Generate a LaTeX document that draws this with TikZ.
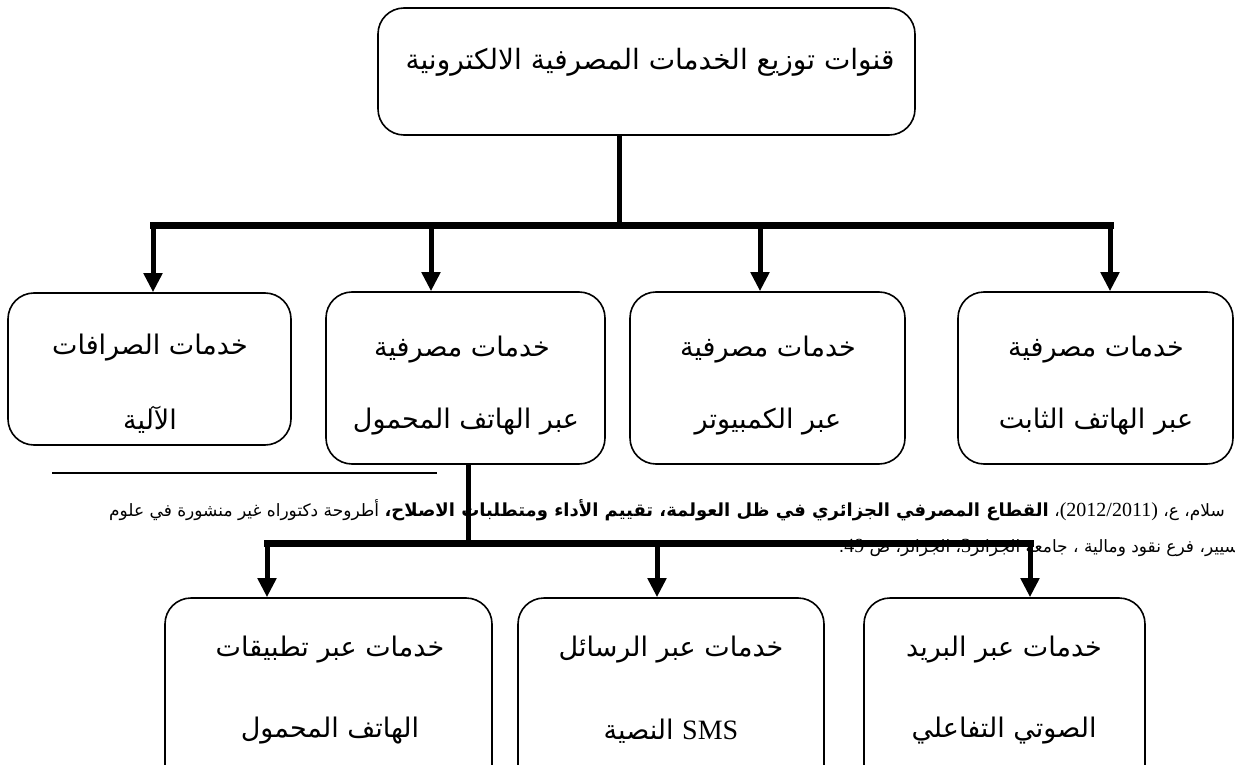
\documentclass[tikz,border=0pt]{standalone}
\usepackage{fontspec}
\usetikzlibrary{arrows.meta}
\TeXXeTstate=1
\newfontfamily\arfont[Script=Arabic]{DejaVu Sans}
\newfontfamily\latfont{Liberation Serif}
\newcommand\artxt[1]{{\arfont\beginR #1\endR}}
\newcommand\latnum[1]{\beginL{\latfont\fontsize{20}{22}\selectfont #1}\endL}

\begin{document}
\begin{tikzpicture}[x=1pt,y=-1pt,
  box/.style={draw, line width=1.6pt, rounded corners=26pt, inner sep=0pt},
  lbl/.style={inner sep=0pt, font=\arfont\fontsize{27}{30}\selectfont},
  title/.style={inner sep=0pt, font=\arfont\fontsize{28}{32}\selectfont},
  note/.style={inner sep=0pt, anchor=east, font=\arfont\fontsize{17}{20}\selectfont},
  bus/.style={line width=7pt, line cap=rect},
  stem/.style={line width=5pt},
  feed/.style={line width=5pt, -{Triangle[width=18pt,length=19pt]}}]
\useasboundingbox (0,0) rectangle (1235,765);
\clip (0,0) rectangle (1235,765);

% root
\node[box, minimum width=537pt, minimum height=127pt] (root) at (646.5,71.5) {};
\node[title] (rootl) at (650,62) {\artxt{قنوات توزيع الخدمات المصرفية الالكترونية}};

% first level
\node[box, minimum width=283pt, minimum height=152pt] (atm) at (149.5,369) {};
\node[box, minimum width=279pt, minimum height=172pt] (mob) at (465.5,378) {};
\node[box, minimum width=275pt, minimum height=172pt] (pc)  at (767.5,378) {};
\node[box, minimum width=275pt, minimum height=172pt] (fix) at (1095.5,378) {};

\node[lbl] (atm1) at (150,348) {\artxt{خدمات الصرافات}};
\node[lbl] (atm2) at (150,420) {\artxt{الآلية}};
\node[lbl] (mob1) at (462,350) {\artxt{خدمات مصرفية}};
\node[lbl] (mob2) at (466,422) {\artxt{عبر الهاتف المحمول}};
\node[lbl] (pc1)  at (768,350) {\artxt{خدمات مصرفية}};
\node[lbl] (pc2)  at (768,422) {\artxt{عبر الكمبيوتر}};
\node[lbl] (fix1) at (1096,350) {\artxt{خدمات مصرفية}};
\node[lbl] (fix2) at (1096,422) {\artxt{عبر الهاتف الثابت}};

% second level (under the mobile channel)
\node[box, minimum width=327pt, minimum height=220pt] (app) at (328.5,708) {};
\node[box, minimum width=306pt, minimum height=220pt] (sms) at (671,708) {};
\node[box, minimum width=281pt, minimum height=220pt] (ivr) at (1004.5,708) {};

\node[lbl] (app1) at (330,650) {\artxt{خدمات عبر تطبيقات}};
\node[lbl] (app2) at (330,731) {\artxt{الهاتف المحمول}};
\node[lbl] (sms1) at (671,650) {\artxt{خدمات عبر الرسائل}};
\node[lbl] (sms2) at (671,731) {\artxt{النصية} {\latfont\fontsize{28}{30}\selectfont SMS}};
\node[lbl] (ivr1) at (1004,650) {\artxt{خدمات عبر البريد}};
\node[lbl] (ivr2) at (1004,731) {\artxt{الصوتي التفاعلي}};

% connectors, level one
\coordinate (j1) at (619,225);
\coordinate (b1) at (153,225);
\coordinate (b2) at (431,225);
\coordinate (b3) at (760,225);
\coordinate (b4) at (1110,225);
\draw[stem] (root.south -| j1) -- (j1);
\draw[bus] (b1) -- (b4);
\draw[feed] (b1) -- (b1 |- atm.north);
\draw[feed] (b2) -- (b2 |- mob.north);
\draw[feed] (b3) -- (b3 |- pc.north);
\draw[feed] (b4) -- (b4 |- fix.north);

% connectors, level two
\coordinate (j2) at (468,543);
\coordinate (c1) at (267,543);
\coordinate (c2) at (657,543);
\coordinate (c3) at (1030,543);
\draw[stem] (mob.south -| j2) -- (j2);
\draw[bus] (c1) -- (c3);
\draw[feed] (c1) -- (c1 |- app.north);
\draw[feed] (c2) -- (c2 |- sms.north);
\draw[feed] (c3) -- (c3 |- ivr.north);

% footnote separator and reference
\coordinate (r1) at (52,473);
\coordinate (r2) at (437,473);
\draw[line width=2pt] (r1) -- (r2);
\node[note] (ref1) at (1225,510) {\artxt{سلام، ع، \latnum{(2012/2011)}، {\bfseries\fontsize{18}{20}\selectfont القطاع المصرفي الجزائري في ظل العولمة، تقييم الأداء ومتطلبات الاصلاح،} أطروحة دكتوراه غير منشورة في علوم}};
\node[note] (ref2) at (1255,548) {\artxt{التسيير، فرع نقود ومالية ، جامعة الجزائر\latnum{3}، الجزائر، ص \latnum{49}.}};
\end{tikzpicture}
\end{document}
